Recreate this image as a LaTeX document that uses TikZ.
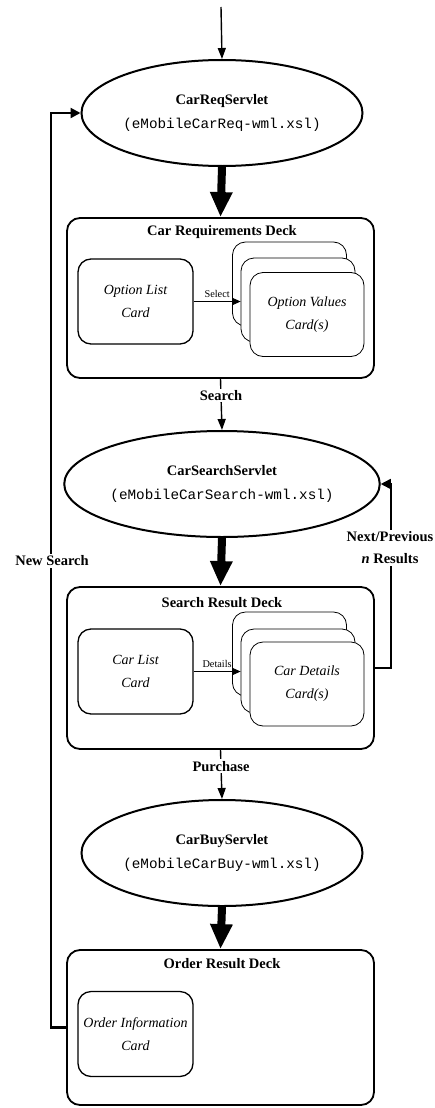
\documentclass[tikz,border=0pt]{standalone}
\usepackage{fontspec}
\setmainfont{Liberation Serif}
\setmonofont{Liberation Mono}
\usetikzlibrary{shapes.geometric,arrows.meta}

\tikzset{
  servlet/.style={ellipse, draw, line width=2pt, fill=white, inner sep=0pt,
    minimum width=281pt, minimum height=106pt, align=center,
    font=\fontsize{14.5}{24}\selectfont},
  deck/.style={draw, line width=1.8pt, rounded corners=13pt, fill=white, inner sep=0pt},
  cardbox/.style={draw, line width=1.3pt, rounded corners=13pt, fill=white, inner sep=0pt,
    minimum width=115pt, minimum height=85pt, align=center,
    font=\fontsize{14}{23}\selectfont\itshape},
  stackcard/.style={draw, line width=0.8pt, rounded corners=13pt, fill=white, inner sep=0pt,
    minimum width=114pt, minimum height=84pt, align=center,
    font=\fontsize{14}{23}\selectfont\itshape},
  decktitle/.style={font=\fontsize{14.5}{22}\selectfont\bfseries, inner sep=0pt},
  flowlabel/.style={font=\fontsize{14.5}{22}\selectfont\bfseries, fill=white, inner sep=1.5pt, align=center},
  smalllabel/.style={font=\fontsize{10.3}{12}\selectfont, inner sep=0pt},
  thinarrow/.style={line width=1.4pt, -{Triangle[length=11pt,width=8pt]}},
  cardarrow/.style={line width=0.8pt, -{Triangle[length=8pt,width=7pt]}},
  bigarrow/.style={line width=8pt, -{Triangle[length=25pt,width=21pt]}},
  looparrow/.style={line width=2.2pt, -{Triangle[length=10pt,width=10pt]}},
}
\newcommand{\servtitle}[2]{{\bfseries #1}\\{\fontsize{14.3}{24}\selectfont\ttfamily(#2)}}

\begin{document}
\begin{tikzpicture}[x=1pt, y=-1pt]
  \useasboundingbox (0,0) rectangle (435,1108);

  % entry point
  \coordinate (entry) at (221,7);

  % servlets
  \node[servlet] (s1) at (222,113) {\servtitle{CarReqServlet}{eMobileCarReq-wml.xsl}};
  \node[servlet] (s2) at (222,484) {\servtitle{CarSearchServlet}{eMobileCarSearch-wml.xsl}};
  \node[servlet] (s3) at (222,853) {\servtitle{CarBuyServlet}{eMobileCarBuy-wml.xsl}};

  % decks
  \node[deck, minimum width=307pt, minimum height=160pt] (d1) at (220.5,298) {};
  \node[decktitle] (d1t) at (222,232) {Car Requirements Deck};
  \node[deck, minimum width=307pt, minimum height=162pt] (d2) at (220.5,668) {};
  \node[decktitle] (d2t) at (222,603) {Search Result Deck};
  \node[deck, minimum width=307pt, minimum height=155pt] (d3) at (220.5,1027.5) {};
  \node[decktitle] (d3t) at (222,964) {Order Result Deck};

  % cards of the requirements deck
  \node[cardbox] (c1) at (135.5,301.5) {Option List\\Card};
  \node[stackcard] (v1) at (289.5,284) {};
  \node[stackcard] (v2) at (298,300) {};
  \node[stackcard] (v3) at (307,314.5) {Option Values\\Card(s)};
  \draw[cardarrow] (c1.east) -- node[smalllabel, above=4pt] (sel) {Select} (c1.east -| v2.west);

  % cards of the search result deck
  \node[cardbox] (c2) at (135.5,671.5) {Car List\\Card};
  \node[stackcard] (w1) at (289.5,654) {};
  \node[stackcard] (w2) at (298,671) {};
  \node[stackcard] (w3) at (307,684) {Car Details\\Card(s)};
  \draw[cardarrow] (c2.east) -- node[smalllabel, above=4pt] (det) {Details} (c2.east -| w2.west);

  % card of the order result deck
  \node[cardbox] (c3) at (135.5,1034) {Order Information\\Card};

  % main flow
  \draw[thinarrow] (entry) -- (s1.north);
  \draw[bigarrow] (s1.south) -- (d1.north);
  \draw[thinarrow] (d1.south) -- node[flowlabel, pos=0.33] (lsearch) {Search} (s2.north);
  \draw[bigarrow] (s2.south) -- (d2.north);
  \draw[thinarrow] (d2.south) -- node[flowlabel, pos=0.33] (lpurchase) {Purchase} (s3.north);
  \draw[bigarrow] (s3.south) -- (d3.north);

  % next / previous results loop
  \draw[looparrow, line width=1.6pt] (d2.east) -- ++(16,0) |- (s2.east);
  \node[flowlabel] (lnext) at (390,548) {Next/Previous\\\textit{n} Results};

  % new search loop
  \draw[looparrow] (d3.west) -- ++(-15,0) |- (s1.west);
  \node[flowlabel] (lnew) at (52,561) {New Search};
\end{tikzpicture}
\end{document}
